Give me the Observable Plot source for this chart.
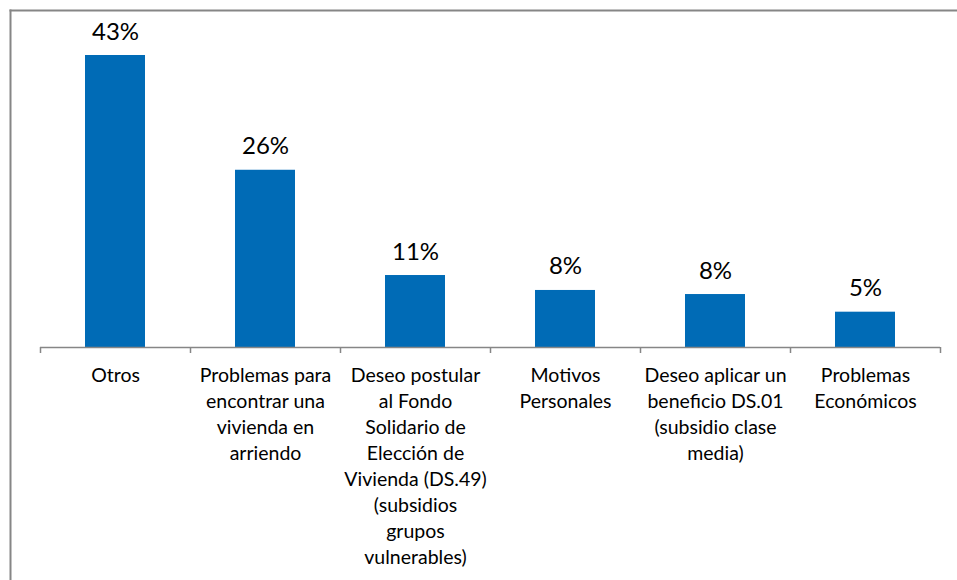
<!DOCTYPE html>
<html>
<head>
<meta charset="utf-8">
<script src="https://cdn.jsdelivr.net/npm/d3@7"></script>
<script src="https://cdn.jsdelivr.net/npm/@observablehq/plot@0.6"></script>
<style>
  html, body { margin: 0; padding: 0; background: #fff; }
  svg { display: block; }
</style>
</head>
<body>
<div id="chart"></div>
<script>
const categories = [
  "Otros",
  "Problemas para encontrar una vivienda en arriendo",
  "Deseo postular al Fondo Solidario de Elección de Vivienda (DS.49) (subsidios grupos vulnerables)",
  "Motivos Personales",
  "Deseo aplicar un beneficio DS.01 (subsidio clase media)",
  "Problemas Económicos"
];
const categoryLines = [
  "Otros",
  "Problemas para\nencontrar una\nvivienda en\narriendo",
  "Deseo postular\nal Fondo\nSolidario de\nElección de\nVivienda (DS.49)\n(subsidios\ngrupos\nvulnerables)",
  "Motivos\nPersonales",
  "Deseo aplicar un\nbeneficio DS.01\n(subsidio clase\nmedia)",
  "Problemas\nEconómicos"
];
const values = [43, 26.1, 10.6, 8.4, 7.8, 5.2];
const valueLabels = ["43%", "26%", "11%", "8%", "8%", "5%"];

const data = categories.map((c, i) => ({
  category: c,
  lines: categoryLines[i],
  value: values[i],
  label: valueLabels[i]
}));

const gray = "#868686";
const font = "Lato, 'Open Sans', sans-serif";

const chart = Plot.plot({
  width: 957,
  height: 580,
  marginLeft: 10,
  marginTop: 10,
  marginRight: 0,
  marginBottom: 0,
  style: { fontFamily: font, background: "#fff" },
  x: { type: "band", domain: categories, range: [40, 940], padding: 0, axis: null },
  y: { type: "linear", domain: [0, 43], range: [347, 55], axis: null },
  marks: [
    Plot.frame({ anchor: "left", stroke: gray, strokeWidth: 2 }),
    Plot.frame({ anchor: "top", stroke: gray, strokeWidth: 2 }),
    Plot.barY(data, { x: "category", y: "value", fill: "#006BB6", insetLeft: 45, insetRight: 45 }),
    Plot.ruleY([0], { y: (d) => d, x1: () => categories[0], x2: () => categories[categories.length - 1], stroke: gray, strokeWidth: 1.5 }),
    Plot.ruleX(data, { x: "category", y1: 0, y2: 0, insetBottom: -6, dx: -75, stroke: gray, strokeWidth: 1.5 }),
    Plot.ruleX(data.slice(-1), { x: "category", y1: 0, y2: 0, insetBottom: -6, dx: 75, stroke: gray, strokeWidth: 1.5 }),
    Plot.text(data, { x: "category", y: "value", text: "label", dy: -16, lineAnchor: "bottom", fontSize: 24, fill: "#000" }),
    Plot.text(data, { x: "category", y: 0, text: "lines", dy: 16, lineAnchor: "top", fontSize: 19.5, lineHeight: 26 / 19.5, fill: "#000" })
  ]
});
document.getElementById("chart").appendChild(chart);
</script>
</body>
</html>
